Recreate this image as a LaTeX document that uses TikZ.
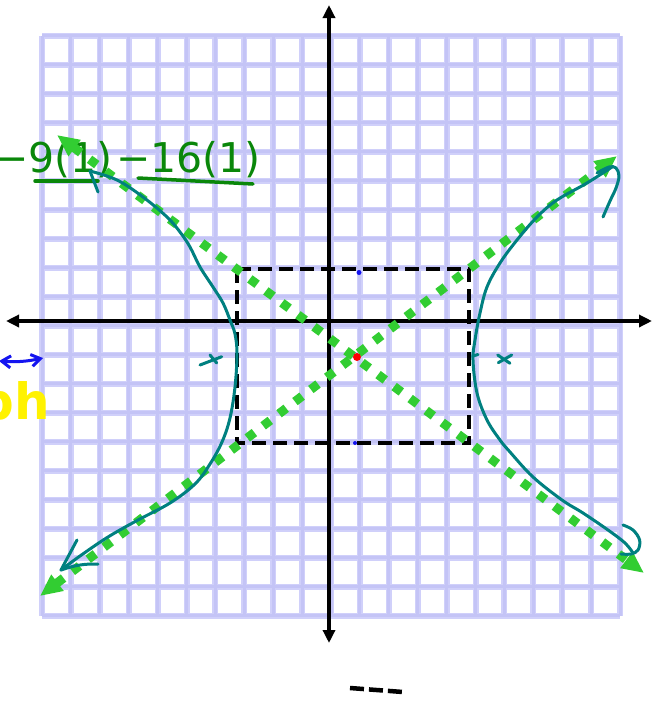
\documentclass[tikz,border=0pt]{standalone}
\usepackage{fontspec}
\setmainfont{DejaVu Sans}
\usetikzlibrary{arrows.meta}
\definecolor{gridc}{RGB}{208,208,250}
\definecolor{gridk}{RGB}{196,196,246}
\definecolor{limeg}{RGB}{50,205,50}
\definecolor{tealc}{RGB}{0,128,128}
\definecolor{penc}{RGB}{10,135,10}
\definecolor{bluepen}{RGB}{20,20,240}
\definecolor{yel}{RGB}{255,242,0}
\begin{document}
\begin{tikzpicture}[x=1pt,y=-1pt,
  gridline/.style={gridc, line width=6pt, line cap=square},
  gridcore/.style={gridk, line width=3pt, line cap=square},
  axisline/.style={line width=3.5pt, {Triangle[length=13pt,width=12pt]}-{Triangle[length=13pt,width=12pt]}},
  asym/.style={limeg, line width=9pt, dash pattern=on 9pt off 11pt, {Triangle[length=22pt,width=19pt]}-{Triangle[length=22pt,width=19pt]}},
  hyp/.style={tealc, line width=3pt, line cap=round, line join=round},
  hand/.style={penc, font=\fontsize{41}{41}\selectfont, inner sep=0pt, anchor=base west},
  uline/.style={penc, line width=3.5pt, line cap=round},
]
\useasboundingbox (0,0) rectangle (655,702);
\fill[white] (0,0) rectangle (655,702);
% grid
\foreach \i in {0,...,20} {
  \draw[gridline] ({42+28.9*\i},35.8) -- ({42+28.9*\i},615.8);
  \draw[gridline] (42,{35.8+29*\i}) -- (620,{35.8+29*\i});
}
\foreach \i in {0,...,20} {
  \draw[gridcore] ({42+28.9*\i},35.8) -- ({42+28.9*\i},615.8);
  \draw[gridcore] (42,{35.8+29*\i}) -- (620,{35.8+29*\i});
}
% axes
\coordinate (yt) at (329,5);
\coordinate (yb) at (329,643);
\coordinate (xl) at (6,321);
\coordinate (xr) at (652,321);
\draw[axisline] (yb) -- (yt);
\draw[axisline] (xl) -- (xr);
% dashed box
\coordinate (r1) at (236.7,269.3);
\coordinate (r3) at (469.3,442.7);
\draw[black, line width=4pt, dash pattern=on 14pt off 7pt] (r1) rectangle (r3);
\fill[bluepen] (359,272.5) circle (2.5);
\fill[bluepen] (355,443) circle (2);
% green handwriting
\node[hand] (t1) at (-6,172) {−9(1)};
\node[hand] (t2) at (116,172) {−16(1)};
\draw[uline] (35,181) -- (98,181);
\draw[uline] (138,178) -- (253,184);
% asymptotes
\coordinate (a1) at (57,135);
\coordinate (a2) at (644,573);
\coordinate (b1) at (40,596);
\coordinate (b2) at (617,156);
\draw[asym] (a1) -- (a2);
\draw[asym] (b1) -- (b2);
% hyperbola left branch
\draw[hyp] plot[smooth, tension=0.6] coordinates {(90,171) (117,180) (143,197) (167,217) (180,232) (190,247) (200,267) (213,287) (223,303) (230,320) (235,334) (237,354) (235,387) (230,418) (222,442) (210,464) (195,484) (170,503) (138,520) (108,537) (80,556) (61,570)};
\draw[hyp] (90,171) -- (98,192);
\draw[hyp] (61,570) -- (77,540);
\draw[hyp] (61,570) to[bend left=10] (98,564);
% hyperbola right branch
\draw[hyp] plot[smooth, tension=0.6] coordinates {(612,167) (587,183) (557,200) (537,217) (517,240) (500,263) (487,287) (480,313) (475,340) (473,360) (477,393) (487,420) (500,440) (510,452) (533,477) (562,500) (583,513) (608,530) (625,543) (633,553)};
\draw[hyp] plot[smooth, tension=0.6] coordinates {(597,173) (609,167) (616,168) (619,176) (616,188) (610,201) (603,217)};
\draw[hyp] plot[smooth, tension=0.6] coordinates {(623,525) (633,530) (639.6,540) (638,550) (631,554) (621,554)};
\draw[hyp] (473,356) -- (478,354.5);
% foci marks
\draw[hyp] (200,365) -- (221.7,356.7);
\draw[hyp] (210,355) -- (216.7,363);
\draw[hyp] (497.7,355) -- (510,363.3);
\draw[hyp] (498.3,362.7) -- (511.7,355);
% center
\fill[red] (357,357) circle (4);
% blue double arrow
\draw[bluepen, line width=3pt, line cap=round, {Straight Barb[length=9pt,width=12pt]}-{Straight Barb[length=9pt,width=12pt]}] (-1,361) to[bend right=8] (43,358);
% yellow text
\node[yel, font=\bfseries\fontsize{50}{50}\selectfont, inner sep=0pt, anchor=base east] (ph) at (50,419) {ph};
% bottom dashes
\draw[black, line width=4.5pt, dash pattern=on 14pt off 5pt] (350,688) -- (403,692);
\end{tikzpicture}
\end{document}
